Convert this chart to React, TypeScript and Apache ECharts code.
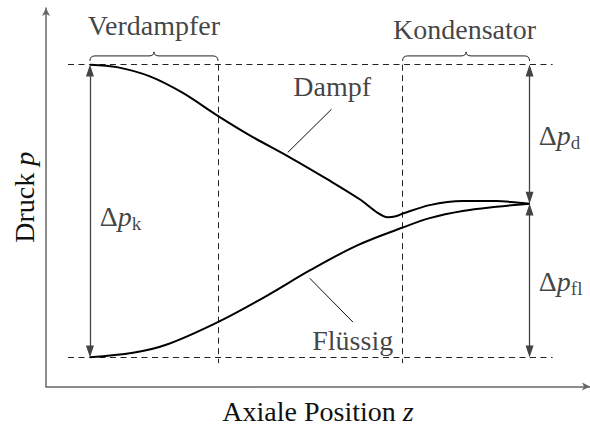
import React, { useEffect, useRef } from "react";
import * as echarts from "echarts";

// Axial position z (arbitrary units) and pressure p (arbitrary units)
const dampfZ = [10, 14.91, 20.91, 26.91, 33.27, 39.09, 46.36, 53.64, 59.09, 62.36, 64.18, 65.64, 67.09, 71.82, 77.82, 84.0, 87.64, 90];
const dampfP = [90, 89.33, 86.8, 82.27, 76.0, 70.67, 64.67, 58.27, 53.2, 49.47, 48.27, 48.53, 49.39, 51.6, 52.72, 52.75, 52.32, 52];
const fluessigZ = [10, 17.82, 24.0, 33.27, 42.18, 50.0, 58.55, 66.91, 71.82, 77.82, 84.0, 90];
const fluessigP = [10, 11.2, 13.47, 19.6, 26.8, 33.73, 40.53, 45.47, 48.05, 50.0, 51.15, 52];

const pHigh = 90;
const pLow = 10;
const pEnd = 52;
const zStart = 10;
const zEnd = 90;
const zVerdampferEnd = 33.3;
const zKondensatorStart = 66.9;
const zDashFrom = 6;
const zDashTo = 94.2;
const pDashBottom = 8.4;
const pBrace = 92.4;

// Pointer lines for the curve labels: [z1, p1, z2, p2]
const dampfPointer = [46.0, 66.0, 53.95, 77.8];
const fluessigPointer = [50.0, 31.6, 57.87, 19.6];

// Text labels: [z, p]
const posVerdampfer = [21.64, 100.6];
const posKondensator = [78.18, 99.5];
const posDampf = [54.09, 84.0];
const posFluessig = [57.82, 14.6];
const posDpk = [11.7, 48.6];
const posDpd = [91.6, 70.6];
const posDpfl = [91.6, 30.8];

const FONT = "'Liberation Serif', 'Times New Roman', serif";
const FS = 28;
const SUB = 19;

const mathRich = {
  n: { fontFamily: FONT, fontSize: FS, color: "#111", lineHeight: 33 },
  i: { fontFamily: FONT, fontSize: FS, fontStyle: "italic", color: "#111", lineHeight: 33 },
  s: { fontFamily: FONT, fontSize: SUB, color: "#111", lineHeight: 19, verticalAlign: "bottom" },
};

function zip(a: number[], b: number[]) {
  return a.map((v, k) => [v, b[k]]);
}

export default function App() {
  const ref = useRef<HTMLDivElement>(null);
  useEffect(() => {
    document.body.style.margin = "0";
    const chart = echarts.init(ref.current!, null, { renderer: "svg" });
    const dash = { type: [6, 4.5], color: "#222", width: 1 };
    const arrowStyle = { color: "#444", width: 1.3, type: "solid" };
    const textLabel = (pos: number[], text: string, align: "center" | "left" = "center") => ({
      value: pos,
      label: {
        show: true,
        position: align === "center" ? "inside" : "right",
        distance: 0,
        formatter: text,
        fontFamily: FONT,
        fontSize: FS,
        color: "#111",
        rich: mathRich,
      },
    });
    chart.setOption({
      animation: false,
      grid: { left: 46, right: 0, top: 8, bottom: 34 },
      xAxis: {
        type: "value",
        min: 2,
        max: 101,
        name: "{n|Axiale Position }{i|z}",
        nameLocation: "middle",
        nameGap: 8,
        nameTextStyle: { rich: mathRich, verticalAlign: "top" },
        axisLine: { show: true, symbol: ["none", "arrow"], symbolSize: [6, 8], lineStyle: { color: "#666", width: 1.5 } },
        axisTick: { show: false },
        axisLabel: { show: false },
        splitLine: { show: false },
      },
      yAxis: {
        type: "value",
        min: 2,
        max: 105.5,
        name: "{n|Druck }{i|p}",
        nameLocation: "middle",
        nameGap: 5,
        nameTextStyle: { rich: mathRich },
        axisLine: { show: true, symbol: ["none", "arrow"], symbolSize: [6, 8], lineStyle: { color: "#666", width: 1.5 } },
        axisTick: { show: false },
        axisLabel: { show: false },
        splitLine: { show: false },
      },
      series: [
        {
          name: "Dampf",
          type: "line",
          data: zip(dampfZ, dampfP),
          smooth: 0.3,
          symbol: "none",
          lineStyle: { color: "#000", width: 2 },
          z: 5,
        },
        {
          name: "Flüssig",
          type: "line",
          data: zip(fluessigZ, fluessigP),
          smooth: 0.35,
          symbol: "none",
          lineStyle: { color: "#000", width: 2 },
          z: 5,
        },
        {
          name: "guides",
          type: "line",
          data: [],
          silent: true,
          markLine: {
            silent: true,
            symbol: "none",
            label: { show: false },
            lineStyle: dash,
            data: [
              [{ coord: [zDashFrom, pHigh] }, { coord: [zDashTo, pHigh] }],
              [{ coord: [zDashFrom, pLow] }, { coord: [zDashTo, pLow] }],
              [{ coord: [zVerdampferEnd, pHigh] }, { coord: [zVerdampferEnd, pDashBottom] }],
              [{ coord: [zKondensatorStart, pHigh] }, { coord: [zKondensatorStart, pDashBottom] }],
            ],
          },
        },
        {
          name: "arrows",
          type: "line",
          data: [],
          silent: true,
          markLine: {
            silent: true,
            symbol: ["triangle", "triangle"],
            symbolSize: [8, 12],
            label: { show: false },
            lineStyle: arrowStyle,
            itemStyle: { color: "#000" },
            data: [
              [{ coord: [zStart, pHigh - 1.6] }, { coord: [zStart, pLow + 1.6] }],
              [{ coord: [zEnd, pHigh - 1.6] }, { coord: [zEnd, pEnd + 1.6] }],
              [{ coord: [zEnd, pEnd - 1.6] }, { coord: [zEnd, pLow + 1.6] }],
            ],
          },
        },
        {
          name: "pointers",
          type: "line",
          data: [],
          silent: true,
          markLine: {
            silent: true,
            symbol: "none",
            label: { show: false },
            lineStyle: { color: "#111", width: 1, type: "solid" },
            data: [
              [{ coord: [dampfPointer[0], dampfPointer[1]] }, { coord: [dampfPointer[2], dampfPointer[3]] }],
              [{ coord: [fluessigPointer[0], fluessigPointer[1]] }, { coord: [fluessigPointer[2], fluessigPointer[3]] }],
            ],
          },
        },
        {
          name: "braces",
          type: "custom",
          silent: true,
          data: [
            [zStart, zVerdampferEnd, pBrace],
            [zKondensatorStart, zEnd, pBrace],
          ],
          renderItem: (_params: any, api: any) => {
            const a = api.coord([api.value(0), api.value(2)]);
            const b = api.coord([api.value(1), api.value(2)]);
            const y = a[1];
            const x0 = a[0];
            const x1 = b[0];
            const m = (x0 + x1) / 2;
            const h = 5;
            const r = 5;
            const t = 4;
            const d =
              `M${x0},${y + h} Q${x0},${y} ${x0 + r},${y} L${m - r},${y} Q${m},${y} ${m},${y - t} ` +
              `Q${m},${y} ${m + r},${y} L${x1 - r},${y} Q${x1},${y} ${x1},${y + h}`;
            return {
              type: "path",
              shape: { pathData: d },
              style: { fill: "none", stroke: "#222", lineWidth: 1 },
            };
          },
        },
        {
          name: "labels",
          type: "scatter",
          silent: true,
          symbolSize: 1,
          itemStyle: { color: "rgba(0,0,0,0)" },
          z: 10,
          data: [
            textLabel(posVerdampfer, "{n|Verdampfer}"),
            textLabel(posKondensator, "{n|Kondensator}"),
            textLabel(posDampf, "{n|Dampf}"),
            textLabel(posFluessig, "{n|Flüssig}"),
            textLabel(posDpk, "{n|Δ}{i|p}{s|k}", "left"),
            textLabel(posDpd, "{n|Δ}{i|p}{s|d}", "left"),
            textLabel(posDpfl, "{n|Δ}{i|p}{s|fl}", "left"),
          ],
        },
      ],
    });
    return () => chart.dispose();
  }, []);
  return <div ref={ref} style={{ width: 590, height: 430 }} />;
}
